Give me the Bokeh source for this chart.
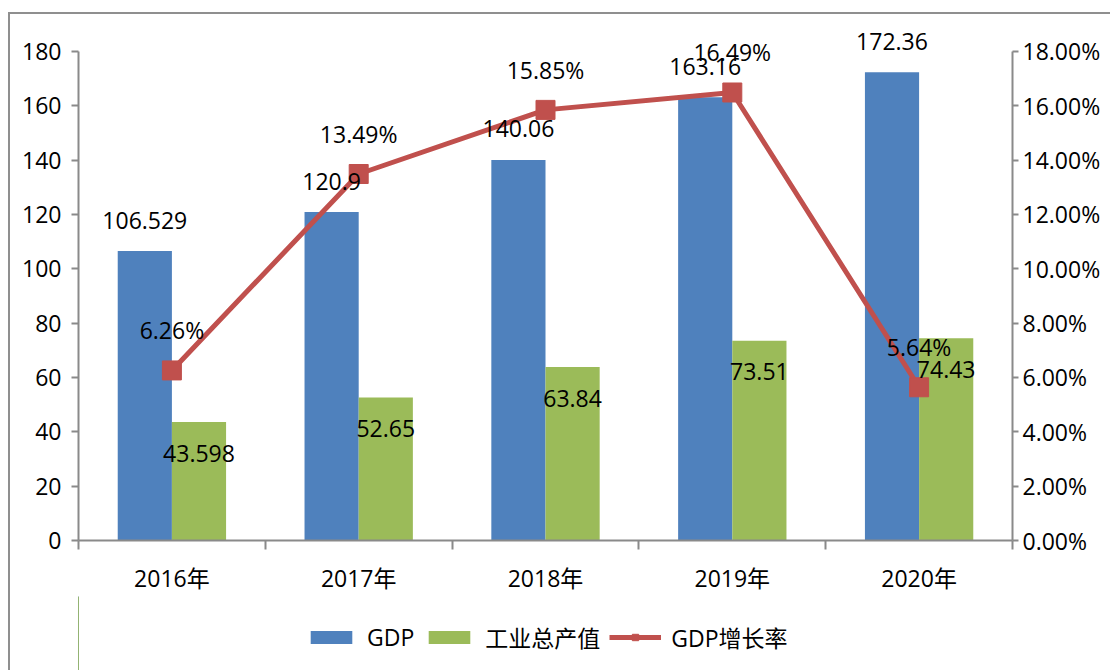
from bokeh.plotting import figure
from bokeh.layouts import column
from bokeh.models import (Range1d, LinearAxis, FixedTicker, NumeralTickFormatter,
                          ColumnDataSource, LabelSet, Legend, LegendItem)
from bokeh.transform import dodge
from bokeh.core.properties import value
from bokeh.embed import file_html
from bokeh.resources import INLINE

years = [2016, 2017, 2018, 2019, 2020]
year_labels = ["2016年", "2017年", "2018年", "2019年", "2020年"]
gdp = [106.529, 120.9, 140.06, 163.16, 172.36]
industry = [43.598, 52.65, 63.84, 73.51, 74.43]
growth = [0.0626, 0.1349, 0.1585, 0.1649, 0.0564]

gdp_text = ["106.529", "120.9", "140.06", "163.16", "172.36"]
ind_text = ["43.598", "52.65", "63.84", "73.51", "74.43"]
growth_text = ["6.26%", "13.49%", "15.85%", "16.49%", "5.64%"]
series_names = ["GDP", "工业总产值", "GDP增长率"]

BLUE = "#4F81BD"
GREEN = "#9BBB59"
RED = "#C0504D"
AXIS = "#8A8A8A"
FONT = "Open Sans, Noto Sans CJK SC"
FS = "23px"

src = ColumnDataSource(dict(year=years, gdp=gdp, industry=industry, growth=growth,
                            gdp_text=gdp_text, ind_text=ind_text, growth_text=growth_text))

YMAX = 191.4
p = figure(width=1100, height=582, output_backend="svg", toolbar_location=None,
           x_range=Range1d(2015.5, 2020.5), y_range=Range1d(0, YMAX),
           min_border_left=68, min_border_right=98, min_border_top=6, min_border_bottom=55)
p.outline_line_color = None
p.grid.visible = False
p.background_fill_color = "white"
p.border_fill_color = "white"

p.extra_y_ranges = {"pct": Range1d(0, 0.18 * YMAX / 180)}

bw = 0.29
p.vbar(x=dodge("year", -bw / 2), top="gdp", width=bw, source=src, color=BLUE, line_color=None)
p.vbar(x=dodge("year", bw / 2), top="industry", width=bw, source=src, color=GREEN, line_color=None)
p.line(x="year", y="growth", source=src, y_range_name="pct", line_color=RED, line_width=5)
p.scatter(x="year", y="growth", source=src, y_range_name="pct", marker="square",
          size=19, fill_color=RED, line_color=RED)

# x axis: ticks between categories, labels at centres
xa = p.xaxis[0]
xa.ticker = FixedTicker(ticks=years, minor_ticks=[y + 0.5 for y in [2015] + years])
xa.major_label_overrides = {y: l for y, l in zip(years, year_labels)}
xa.major_tick_out = 0
xa.major_tick_in = 0
xa.minor_tick_out = 9
xa.minor_tick_in = 0
xa.minor_tick_line_color = AXIS
xa.minor_tick_line_width = 2
xa.axis_line_color = AXIS
xa.axis_line_width = 2
xa.major_label_text_font = FONT
xa.major_label_text_font_size = FS
xa.major_label_text_color = "black"
xa.major_label_standoff = 12

ya = p.yaxis[0]
ya.ticker = FixedTicker(ticks=list(range(0, 181, 20)))
ya.bounds = (0, 180)
ya.minor_tick_line_color = None
ya.major_tick_out = 7
ya.major_tick_in = 0
ya.major_tick_line_color = AXIS
ya.major_tick_line_width = 2
ya.axis_line_color = AXIS
ya.axis_line_width = 2
ya.major_label_text_font = FONT
ya.major_label_text_font_size = FS
ya.major_label_text_color = "black"
ya.major_label_standoff = 10

ra = LinearAxis(y_range_name="pct", ticker=FixedTicker(ticks=[i * 0.02 for i in range(10)]),
                formatter=NumeralTickFormatter(format="0.00%"), bounds=(0, 0.18))
ra.minor_tick_line_color = None
ra.major_tick_out = 6
ra.major_tick_in = 0
ra.major_tick_line_color = AXIS
ra.major_tick_line_width = 2
ra.axis_line_color = AXIS
ra.axis_line_width = 2
ra.major_label_text_font = FONT
ra.major_label_text_font_size = FS
ra.major_label_text_color = "black"
ra.major_label_standoff = 4
p.add_layout(ra, "right")

lab_kw = dict(source=src, text_font=value(FONT), text_font_size=FS, text_color="black",
              text_align="center", text_baseline="middle")
p.add_layout(LabelSet(x=dodge("year", -bw / 2), y="gdp", text="gdp_text", y_offset=31, **lab_kw))
p.add_layout(LabelSet(x=dodge("year", bw / 2), y="industry", text="ind_text", y_offset=-31, **lab_kw))
p.add_layout(LabelSet(x="year", y="growth", y_range_name="pct", text="growth_text", y_offset=40, **lab_kw))

# legend strip below the chart (its glyphs lie outside its own ranges; only the legend shows)
q = figure(width=1100, height=74, output_backend="svg", toolbar_location=None,
           x_range=Range1d(2021.5, 2022.5), y_range=Range1d(0, 1),
           x_axis_location=None, y_axis_location=None,
           min_border_left=0, min_border_right=0, min_border_top=0, min_border_bottom=0)
q.grid.visible = False
q.outline_line_color = None
q.border_fill_color = "white"
l1 = q.vbar(x="year", top="gdp", width=0, source=src, color=BLUE, line_color=None)
l2 = q.vbar(x="year", top="industry", width=0, source=src, color=GREEN, line_color=None)
l3 = q.line(x="year", y="growth", source=src, line_color=RED, line_width=5)
l4 = q.scatter(x="year", y="growth", source=src, marker="square", size=17, fill_color=RED, line_color=RED)

legend = Legend(items=[LegendItem(label=series_names[0], renderers=[l1]),
                       LegendItem(label=series_names[1], renderers=[l2]),
                       LegendItem(label=series_names[2], renderers=[l3, l4])],
                orientation="horizontal", location=(227, 16),
                glyph_width=52, glyph_height=16, label_standoff=10, spacing=9, padding=5,
                label_text_font=FONT, label_text_font_size=FS, label_text_color="black",
                border_line_color=None, background_fill_alpha=0)
q.add_layout(legend, "center")

layout = column(p, q, spacing=0)
layout.styles = {"border-left": "2px solid #8F8F8F", "border-top": "2px solid #8F8F8F",
                 "margin-left": "8px", "margin-top": "12px"}

open("out.html", "w").write(file_html(layout, INLINE))
